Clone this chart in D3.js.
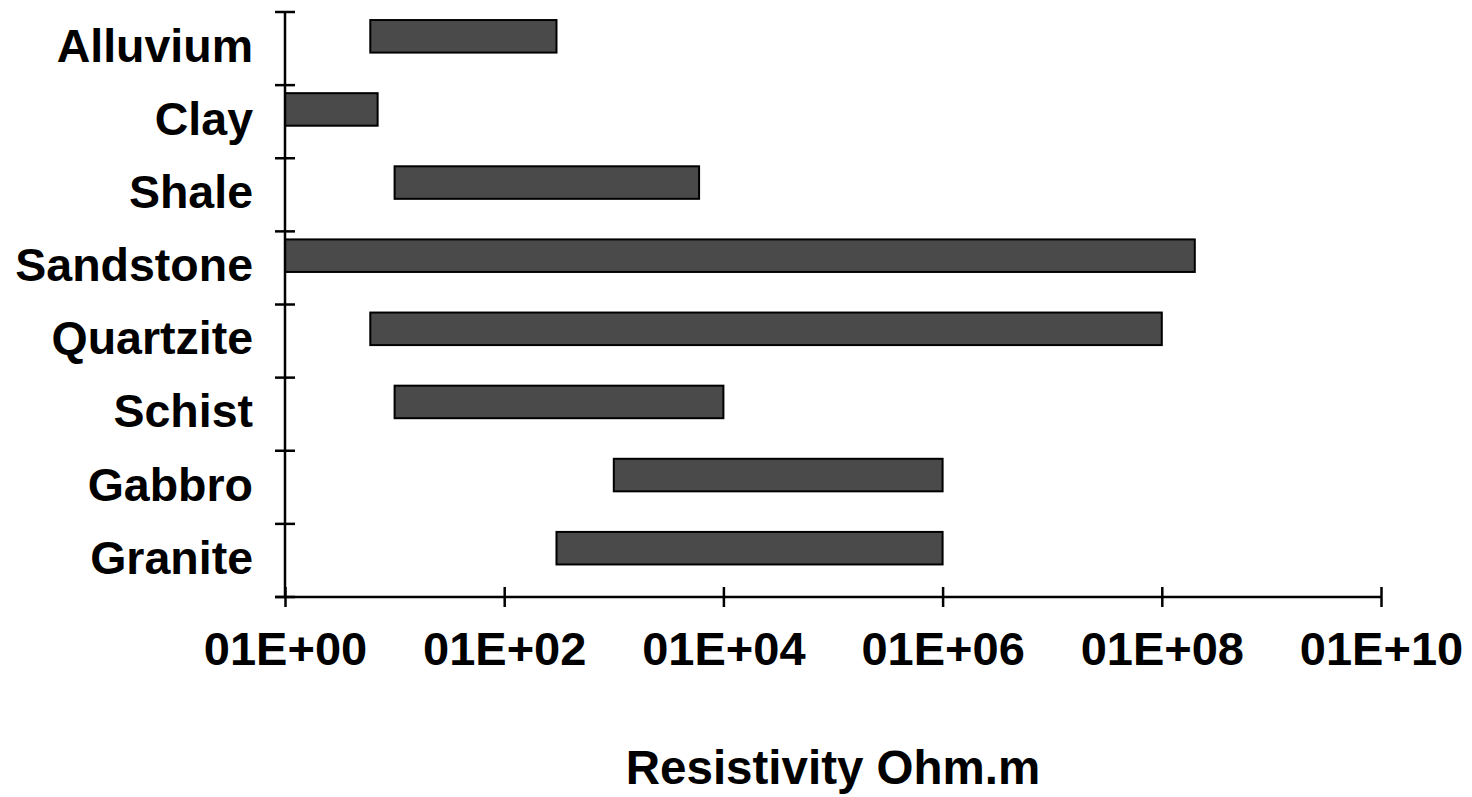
<!DOCTYPE html>
<html>
<head>
<meta charset="utf-8">
<script src="https://cdn.jsdelivr.net/npm/d3@7"></script>
<style>
  html, body { margin: 0; padding: 0; background: #fff; }
  #chart { width: 1472px; height: 797px; }
  text { font-family: Arial, "Liberation Sans", sans-serif; font-weight: bold; fill: #000; }
</style>
</head>
<body>
<div id="chart"></div>
<script>
// resistivity ranges (Ohm.m)
const categories = ["Alluvium", "Clay", "Shale", "Sandstone", "Quartzite", "Schist", "Gabbro", "Granite"];
const lowValues = [6, 1, 10, 1, 6, 10, 1000, 300];
const highValues = [300, 7, 6000, 2e8, 1e8, 1e4, 1e6, 1e6];
const tickValues = [1, 1e2, 1e4, 1e6, 1e8, 1e10];
const tickLabels = ["01E+00", "01E+02", "01E+04", "01E+06", "01E+08", "01E+10"];
const axisTitle = "Resistivity Ohm.m";

const data = categories.map((c, i) => ({ name: c, low: lowValues[i], high: highValues[i] }));

const WIDTH = 1472,
  HEIGHT = 797,
  margin = { top: 12, right: 91, bottom: 200, left: 285 };

const innerW = WIDTH - margin.left - margin.right,
  innerH = HEIGHT - margin.top - margin.bottom;

const svg = d3.select("#chart")
  .append("svg")
  .attr("width", WIDTH)
  .attr("height", HEIGHT);

const g = svg.append("g")
  .attr("transform", `translate(${margin.left}, ${margin.top})`);

const x = d3.scaleLog().domain([1, 1e10]).range([0, innerW]);
const y = d3.scaleBand().domain(categories).range([0, innerH]).padding(0);

// bars sit in the upper part of each band, like the excel original
const barTop = y.bandwidth() * 0.11,
  barH = y.bandwidth() * 0.445;

g.selectAll(".bar")
  .data(data)
  .enter()
  .append("rect")
  .attr("class", "bar")
  .attr("x", d => x(d.low))
  .attr("y", d => y(d.name) + barTop)
  .attr("width", d => x(d.high) - x(d.low))
  .attr("height", barH)
  .style("fill", "#4a4a4a")
  .style("stroke", "#000")
  .style("stroke-width", 2);

// y axis: line plus ticks crossing it at band boundaries
const yTicks = d3.range(categories.length + 1).map(i => i * y.step());
g.append("line")
  .attr("x1", 0).attr("x2", 0)
  .attr("y1", 0).attr("y2", innerH)
  .style("stroke", "#000").style("stroke-width", 2.5);

g.selectAll(".ytick")
  .data(yTicks)
  .enter()
  .append("line")
  .attr("x1", -10).attr("x2", 10)
  .attr("y1", d => d).attr("y2", d => d)
  .style("stroke", "#000").style("stroke-width", 2.5);

g.selectAll(".ylabel")
  .data(categories)
  .enter()
  .append("text")
  .attr("x", -32)
  .attr("y", d => y(d) + y.bandwidth() / 2 - 3)
  .attr("dy", "0.35em")
  .attr("text-anchor", "end")
  .style("font-size", "46.5px")
  .text(d => d);

// x axis
const xAxis = g.append("g")
  .attr("transform", `translate(0, ${innerH})`)
  .call(d3.axisBottom(x)
    .tickValues(tickValues)
    .tickFormat((d, i) => tickLabels[i])
    .tickSizeInner(10)
    .tickSizeOuter(0)
    .tickPadding(25));

xAxis.select(".domain")
  .attr("d", `M-10,0H${innerW}`)
  .style("stroke-width", 2.5);

xAxis.selectAll(".tick line")
  .attr("y1", -10)
  .attr("y2", 10)
  .style("stroke-width", 2.5);

xAxis.selectAll(".tick text")
  .style("font-size", "47px")
  .style("font-family", "Arial, 'Liberation Sans', sans-serif")
  .style("font-weight", "bold")
  .attr("fill", "#000");

svg.append("text")
  .attr("x", margin.left + innerW / 2)
  .attr("y", 784)
  .attr("text-anchor", "middle")
  .style("font-size", "47.5px")
  .text(axisTitle);
</script>
</body>
</html>
